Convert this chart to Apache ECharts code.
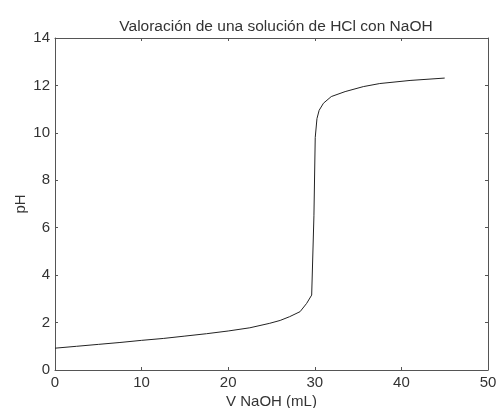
<!DOCTYPE html>
<html>
<head>
<meta charset="utf-8">
<script src="https://cdn.jsdelivr.net/npm/echarts@6/dist/echarts.min.js"></script>
<style>html,body{margin:0;padding:0;background:#fff}#c{width:498px;height:408px}</style>
</head>
<body>
<div id="c"></div>
<script>
var volume = [0, 2.5, 5, 7.5, 10, 12.5, 15, 17.5, 20, 22.5, 24.8, 26, 27.1, 28.3, 29.06, 29.64, 29.73, 29.9, 30.05, 30.25, 30.5, 31.0, 31.9, 33.5, 35.6, 37.5, 41, 45];
var pH = [0.92, 1.0, 1.08, 1.16, 1.25, 1.33, 1.43, 1.53, 1.645, 1.78, 1.97, 2.09, 2.25, 2.46, 2.81, 3.16, 3.24, 6.5, 9.8, 10.6, 10.95, 11.25, 11.53, 11.74, 11.95, 12.08, 12.21, 12.31];
var xTicks = [0, 10, 20, 30, 40, 50];
var yTicks = [0, 2, 4, 6, 8, 10, 12, 14];
var titleText = 'Valoración de una solución de HCl con NaOH';
var xName = 'V NaOH (mL)';
var yName = 'pH';

var points = volume.map(function (v, i) { return [v, pH[i]]; });
var font = 'Liberation Sans, Arial, sans-serif';
var txt = '#333';
var ax = '#555';
var fs = 15;
function axisBase(extra) {
  var o = {
    axisLine: { show: true, onZero: false, lineStyle: { color: ax, width: 1 } },
    axisTick: { show: true, inside: true, length: 3, lineStyle: { color: ax } },
    splitLine: { show: false },
    nameMoveOverlap: false,
    axisLabel: { color: txt, fontSize: fs, fontFamily: font }
  };
  for (var k in extra) o[k] = extra[k];
  return o;
}
var chart = echarts.init(document.getElementById('c'));
chart.setOption({
  animation: false,
  title: { text: titleText, left: 271, textAlign: 'center', top: 14, textStyle: { color: txt, fontSize: 15.5, fontWeight: 'normal', fontFamily: font } },
  grid: { left: 55, right: 10, top: 38, bottom: 38, containLabel: false, outerBoundsMode: 'none' },
  xAxis: [
    axisBase({ type: 'value', min: xTicks[0], max: xTicks[xTicks.length - 1], interval: 10, position: 'bottom', name: xName, nameLocation: 'middle', nameGap: 24, nameTextStyle: { color: txt, fontSize: fs, fontFamily: font }, axisLabel: { color: txt, fontSize: fs, fontFamily: font, margin: 5 } }),
    axisBase({ type: 'value', min: xTicks[0], max: xTicks[xTicks.length - 1], interval: 10, position: 'top', axisLabel: { show: false } })
  ],
  yAxis: [
    axisBase({ type: 'value', min: yTicks[0], max: yTicks[yTicks.length - 1], interval: 2, position: 'left', name: yName, nameLocation: 'middle', nameGap: 27, nameTextStyle: { color: txt, fontSize: fs, fontFamily: font }, axisLabel: { color: txt, fontSize: fs, fontFamily: font, margin: 5 } }),
    axisBase({ type: 'value', min: yTicks[0], max: yTicks[yTicks.length - 1], interval: 2, position: 'right', axisLabel: { show: false } })
  ],
  series: [{
    type: 'line',
    data: points,
    xAxisIndex: 0,
    yAxisIndex: 0,
    showSymbol: false,
    smooth: false,
    lineStyle: { color: '#222', width: 1 }
  }]
});
</script>
</body>
</html>
